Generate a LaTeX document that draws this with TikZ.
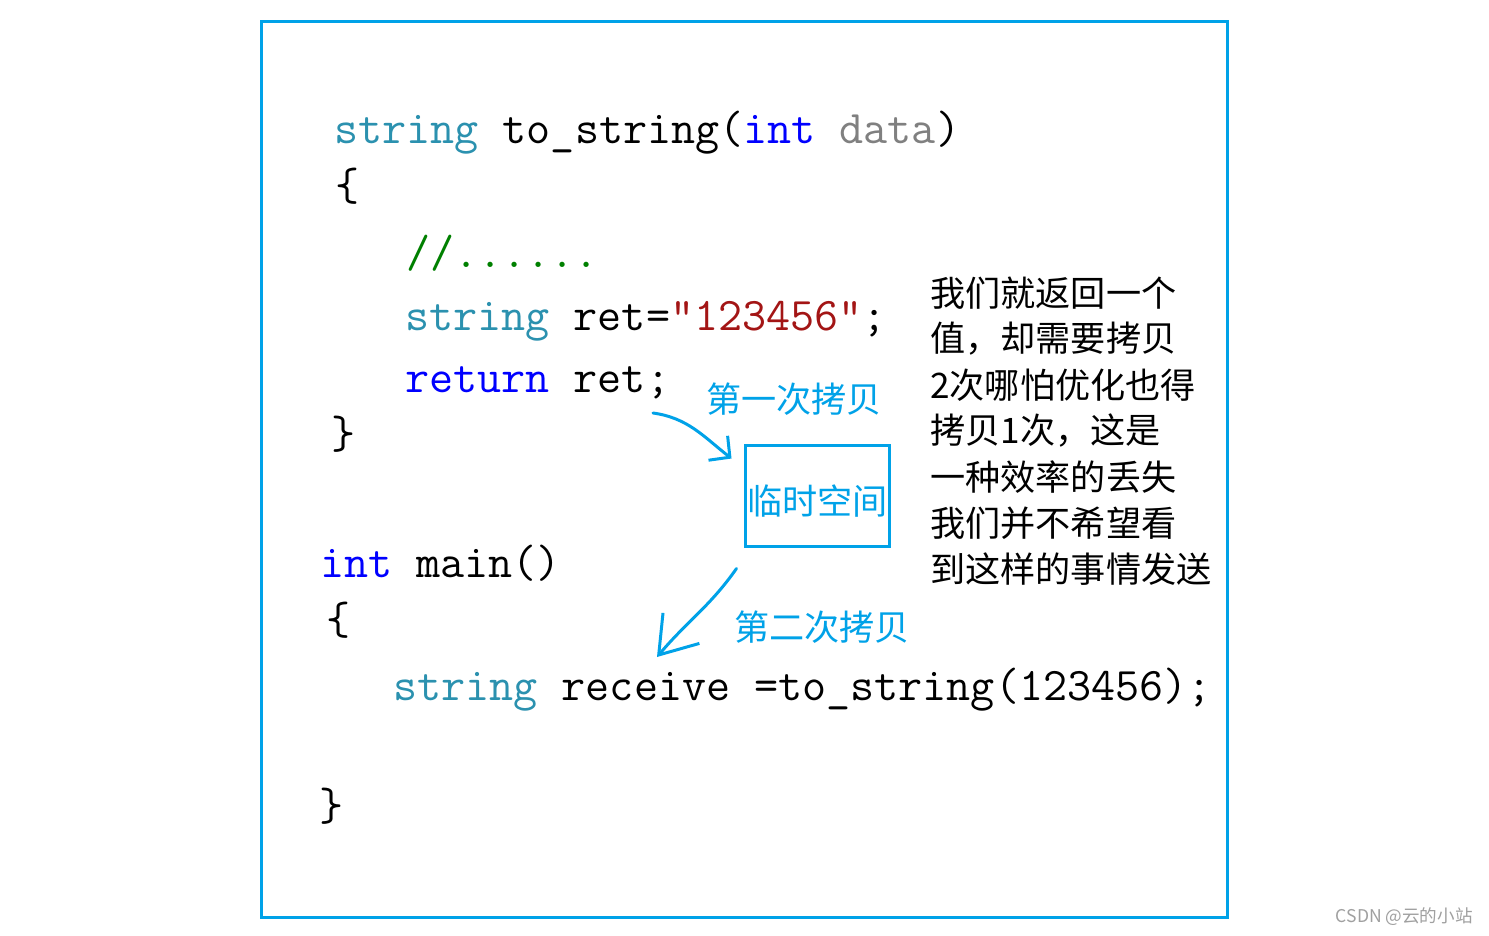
\documentclass[tikz,border=0pt]{standalone}
\usepackage{fontspec}
\newfontfamily\cjkfont{Noto Sans CJK SC}
\usetikzlibrary{arrows.meta,calc,positioning}
\definecolor{codeType}{HTML}{2B91AF}
\definecolor{codeKeyword}{HTML}{0000FF}
\definecolor{codeParam}{HTML}{808080}
\definecolor{codeComment}{HTML}{008000}
\definecolor{codeString}{HTML}{A31515}
\definecolor{copyBlue}{HTML}{00A2E8}
\definecolor{markGray}{HTML}{A0A0A0}
\newcommand{\ctype}[1]{\textcolor{codeType}{#1}}
\newcommand{\ckw}[1]{\textcolor{codeKeyword}{#1}}
\newcommand{\cparam}[1]{\textcolor{codeParam}{#1}}
\newcommand{\cstr}[1]{\textcolor{codeString}{#1}}

\begin{document}
\begin{tikzpicture}[x=0.02cm,y=-0.02cm,
  font=\ttfamily\fontsize{26.6}{30}\selectfont,
  codeline/.style={anchor=base west,inner sep=0pt},
  copylabel/.style={anchor=west,inner sep=0pt,text=copyBlue,
    font=\cjkfont\fontsize{20}{24}\selectfont},
  noteline/.style={anchor=west,inner sep=0pt,font=\cjkfont\fontsize{20}{24}\selectfont},
  copyarrow/.style={draw=copyBlue,line width=1.7pt,line cap=round,line join=round}]
  \fill[white] (0,0) rectangle (1489,936);
  \path[use as bounding box] (0,0) rectangle (1489,936);

  % frame round the snippet
  \draw[draw=copyBlue,line width=1.7pt] (261.5,21.5) rectangle (1227,917.5);

  % function returning by value
  \node[codeline] (sig) at (334,144)
    {\ctype{string} to\_string(\ckw{int} \cparam{data})};
  \node[codeline] (open1) at (335,201) {\{};
  \node[codeline,text=codeComment] (comment) at (406,268) {//......};
  \node[codeline] (retdecl) at (405,330) {\ctype{string} ret=\cstr{"123456"};};
  \node[codeline] (retstmt) at (405,392) {\ckw{return} ret;};
  \node[codeline] (close1) at (331,448) {\}};

  % caller
  \node[codeline] (mainsig) at (320,577) {\ckw{int} main()};
  \node[codeline] (open2) at (326,634) {\{};
  \node[codeline] (call) at (393,700) {\ctype{string} receive =to\_string(123456);};
  \node[codeline] (close2) at (319,820) {\}};

  % temporary object and the two copies
  \node[draw=copyBlue,line width=1.7pt,minimum width=2.9cm,minimum height=2.04cm,
    inner sep=0pt,text=copyBlue,font=\cjkfont\fontsize{20}{24}\selectfont]
    (tmp) at (817.5,496) {\raisebox{-0.38cm}[0pt][0pt]{临时空间}};
  \node[copylabel] (copyone) at (706,399) {第一次拷贝};
  \node[copylabel] (copytwo) at (734,627) {第二次拷贝};

  \coordinate (firstfrom) at (653,413);
  \coordinate (firstto) at ($(tmp.north west)+(-12,15)$);
  \draw[copyarrow,-{Straight Barb[length=0.3cm,width=0.62cm]}]
    (firstfrom) to[out=-8,in=142] (firstto);

  \coordinate (secondfrom) at ($(tmp.south west)+(-7,20)$);
  \coordinate (secondto) at (657,657);
  \draw[copyarrow,-{Straight Barb[length=0.7cm,width=0.95cm]}]
    (secondfrom) to[out=235,in=50] (secondto);

  % remark on the right
  \foreach \i/\txt in {1/我们就返回一个,2/值，却需要拷贝,3/2次哪怕优化也得,
      4/拷贝1次，这是,5/一种效率的丢失,6/我们并不希望看,7/到这样的事情发送}
    {\node[noteline] (note\i) at (930,{293+46*(\i-1)}) {\txt};}

  \node[anchor=east,inner sep=0pt,text=markGray,font=\cjkfont\fontsize{10}{12}\selectfont]
    (mark) at (1473,917) {CSDN @云的小站};
\end{tikzpicture}
\end{document}
